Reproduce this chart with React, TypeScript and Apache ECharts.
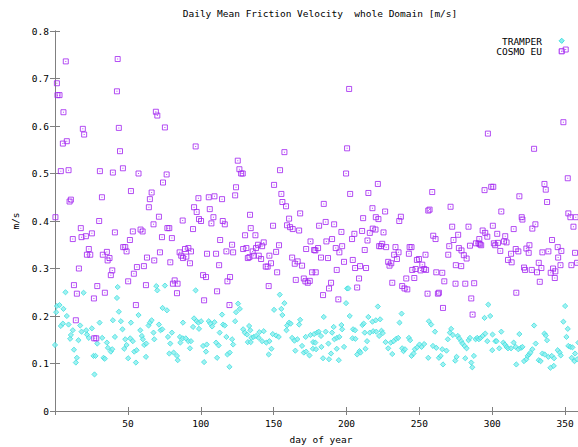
import React, { useEffect, useRef } from "react";
import * as echarts from "echarts";

const chartTitle = "Daily Mean Friction Velocity  whole Domain [m/s]";
const xAxisName = "day of year";
const yAxisName = "m/s";
const seriesNames = ["TRAMPER", "COSMO EU"];

const cosmoDays = [
  0.3, 1.3, 1.7, 3.1, 4.0, 5.4, 5.8, 7.4, 8.1, 9.3, 10.0, 10.9, 12.2, 13.0, 14.3, 15.0, 16.4, 17.7, 18.2, 19.1,
  20.0, 21.2, 21.9, 23.2, 24.2, 25.3, 26.7, 26.9, 28.3, 29.0, 30.3, 30.8, 32.2, 32.8, 34.2, 35.6, 36.1, 37.4, 38.3, 39.3,
  39.7, 41.1, 42.5, 43.0, 43.8, 44.6,
  46.6, 46.8, 48.2, 49.1, 50.2, 51.4, 52.1, 53.4, 54.1, 55.5, 56.2, 57.3, 58.7, 60.1, 61.0, 62.4, 63.1, 64.4, 65.1, 66.3,
  67.6, 68.1, 69.2, 70.2, 71.3, 72.0, 73.4, 74.1, 75.4, 76.6, 77.1, 78.4, 79.1, 80.2, 80.9, 82.1, 83.7, 84.1, 85.5, 86.6,
  87.6, 87.8,
  89.2, 90.1, 91.5, 92.6, 93.3, 94.7, 95.4, 96.5, 97.2, 98.4, 98.8, 100.2, 101.6, 102.3, 103.6, 104.3, 105.5, 106.2, 107.3, 108.7,
  109.4, 110.5, 111.2, 112.6, 113.3, 114.6, 115.1, 116.5, 117.6, 118.3, 119.7, 120.1, 121.5, 122.2, 123.6, 124.2, 125.4, 126.5, 127.7, 128.8,
  129.1, 130.4, 131.3, 132.3,
  133.4, 133.8, 134.3, 135.6, 136.3, 137.5, 137.9, 139.3, 139.8, 141.4, 142.1, 143.2, 144.6, 145.9, 146.6, 147.1, 148.2, 149.6, 150.3, 151.7,
  152.4, 153.7, 154.4, 155.3, 156.0, 157.4, 158.5, 159.2, 160.6, 161.3, 162.7, 163.1, 164.5, 165.2, 166.5, 167.5, 168.2, 169.5, 170.7, 171.8,
  172.3, 173.4, 174.8, 175.3, 176.4, 177.8,
  178.6, 178.9, 180.5, 181.2, 182.5, 183.9, 184.4, 185.7, 186.2, 187.3, 188.0, 189.4, 190.1, 191.5, 192.6, 193.3, 194.4, 195.1, 196.5, 197.0,
  198.3, 199.7, 200.4, 201.8, 202.5, 203.8, 204.3, 205.4, 205.9, 207.3, 208.6, 209.3, 210.7, 211.4, 212.5, 213.4, 214.4, 215.0, 216.0, 217.8,
  218.0, 219.9, 220.1, 221.5, 221.9, 222.4,
  223.6, 224.5, 225.4, 226.5, 227.2, 228.6, 229.5, 230.7, 231.4, 232.7, 233.6, 234.6, 235.7, 236.2, 237.3, 238.2, 239.8, 241.0, 241.7, 242.8,
  243.3, 244.6, 245.1, 246.5, 247.4, 248.3, 249.7, 250.8, 252.0, 253.3, 254.2, 254.6, 255.6, 256.1, 257.0, 258.8, 259.5, 261.1, 261.6, 262.7,
  263.4, 265.7, 266.2, 267.1,
  269.8, 270.5, 271.4, 272.5, 273.4, 274.8, 275.0, 276.6, 277.1, 278.7, 278.9, 280.5, 281.5, 282.4, 283.7, 284.7, 285.6, 286.5, 287.6, 288.8,
  290.6, 291.1, 291.5, 292.4, 293.4, 294.7, 295.2, 296.6, 297.0, 299.3, 300.4, 300.7, 301.1, 302.0, 303.4, 303.9, 305.5, 306.2, 308.0, 308.9,
  309.8, 310.8,
  312.9, 313.3, 314.7, 316.1, 316.5, 317.9, 318.6, 320.2, 320.7, 321.8, 322.5, 323.4, 325.0, 325.5, 327.1, 327.5, 328.7, 329.6, 330.7, 331.9,
  332.6, 333.7, 334.4, 335.8, 336.7, 337.6, 338.5, 340.1, 341.0, 341.7, 342.9, 343.3, 344.9, 345.2, 346.8, 347.4, 348.8, 350.4, 351.8, 352.2,
  353.6, 354.3, 355.7, 356.8, 357.3, 358.2,
];
const cosmoValues = [
  0.408, 0.690, 0.665, 0.665, 0.505, 0.563, 0.629, 0.736, 0.568, 0.507, 0.441, 0.445, 0.362, 0.265, 0.191, 0.247, 0.300, 0.385, 0.366, 0.594,
  0.582, 0.368, 0.329, 0.341, 0.329, 0.374, 0.237, 0.153, 0.153, 0.263, 0.400, 0.505, 0.450, 0.329, 0.249, 0.335, 0.317, 0.322, 0.286, 0.296,
  0.502, 0.376, 0.673, 0.741, 0.596, 0.547,
  0.511, 0.345, 0.345, 0.336, 0.273, 0.360, 0.463, 0.378, 0.289, 0.223, 0.303, 0.500, 0.382, 0.378, 0.305, 0.265, 0.323, 0.429, 0.446, 0.460,
  0.393, 0.317, 0.630, 0.622, 0.409, 0.334, 0.366, 0.481, 0.597, 0.498, 0.385, 0.385, 0.313, 0.364, 0.268, 0.275, 0.248, 0.268, 0.334, 0.327,
  0.401, 0.322,
  0.341, 0.325, 0.343, 0.311, 0.336, 0.383, 0.429, 0.557, 0.419, 0.448, 0.404, 0.400, 0.286, 0.233, 0.282, 0.331, 0.450, 0.425, 0.395, 0.408,
  0.452, 0.331, 0.252, 0.307, 0.360, 0.446, 0.400, 0.393, 0.336, 0.273, 0.223, 0.282, 0.350, 0.334, 0.454, 0.471, 0.527, 0.509, 0.500, 0.500,
  0.341, 0.370, 0.343, 0.322,
  0.324, 0.413, 0.385, 0.336, 0.327, 0.370, 0.343, 0.350, 0.327, 0.320, 0.347, 0.355, 0.304, 0.304, 0.263, 0.327, 0.311, 0.390, 0.476, 0.335,
  0.292, 0.349, 0.507, 0.457, 0.440, 0.545, 0.431, 0.391, 0.405, 0.387, 0.323, 0.383, 0.310, 0.276, 0.315, 0.380, 0.416, 0.306, 0.279, 0.273,
  0.341, 0.270, 0.274, 0.357, 0.292, 0.339,
  0.338, 0.292, 0.343, 0.390, 0.323, 0.244, 0.436, 0.398, 0.357, 0.322, 0.258, 0.270, 0.362, 0.393, 0.343, 0.297, 0.235, 0.334, 0.377, 0.347,
  0.314, 0.500, 0.553, 0.678, 0.457, 0.362, 0.318, 0.373, 0.301, 0.260, 0.279, 0.305, 0.379, 0.406, 0.339, 0.301, 0.359, 0.459, 0.375, 0.427,
  0.384, 0.382, 0.408, 0.478, 0.404, 0.347,
  0.347, 0.352, 0.376, 0.420, 0.345, 0.314, 0.306, 0.311, 0.270, 0.329, 0.345, 0.320, 0.334, 0.400, 0.409, 0.263, 0.258, 0.279, 0.256, 0.331,
  0.345, 0.345, 0.297, 0.280, 0.299, 0.318, 0.320, 0.296, 0.308, 0.299, 0.329, 0.297, 0.247, 0.422, 0.424, 0.461, 0.369, 0.362, 0.292, 0.247,
  0.249, 0.291, 0.217, 0.273,
  0.329, 0.347, 0.430, 0.388, 0.360, 0.268, 0.307, 0.371, 0.343, 0.305, 0.338, 0.328, 0.268, 0.321, 0.388, 0.348, 0.237, 0.203, 0.269, 0.353,
  0.353, 0.362, 0.351, 0.349, 0.380, 0.465, 0.375, 0.367, 0.584, 0.472, 0.390, 0.472, 0.353, 0.349, 0.373, 0.354, 0.337, 0.420, 0.357, 0.368,
  0.355, 0.318,
  0.331, 0.313, 0.383, 0.341, 0.249, 0.336, 0.452, 0.408, 0.403, 0.302, 0.297, 0.342, 0.333, 0.349, 0.297, 0.384, 0.552, 0.393, 0.292, 0.312,
  0.272, 0.301, 0.334, 0.478, 0.466, 0.440, 0.336, 0.291, 0.360, 0.300, 0.280, 0.294, 0.345, 0.323, 0.307, 0.337, 0.608, 0.761, 0.490, 0.416,
  0.408, 0.307, 0.388, 0.333, 0.408, 0.312,
];

const tramperDays = [
  0.0, 0.8, 1.3, 3.1, 4.0, 5.4, 5.8, 7.2, 8.1, 9.3, 10.4, 10.9, 12.2, 13.0, 14.3, 15.0, 16.1, 17.3, 18.2, 19.6,
  21.4, 21.9, 23.2, 25.3, 26.4, 27.1, 27.8, 29.0, 30.6, 32.4, 33.3, 34.2, 35.6, 36.3, 38.3, 39.3, 39.7, 41.1, 42.5, 43.0,
  43.8,
  45.2, 46.3, 47.5, 48.2, 49.1, 50.2, 51.6, 52.1, 53.4, 54.4, 55.5, 56.0, 57.3, 58.5, 59.6, 60.3, 61.2, 62.4, 62.6, 64.2,
  65.1, 66.3, 67.6, 68.1, 69.5, 70.2, 71.3, 72.4, 73.6, 73.8, 75.4, 76.8, 77.5, 78.4, 79.1, 80.2, 81.4, 83.7, 84.2, 85.7,
  86.0, 87.6, 87.8,
  89.7, 91.5, 92.6, 93.3, 94.7, 95.4, 96.5, 97.2, 98.4, 98.8, 100.2, 101.6, 102.3, 103.6, 104.1, 105.5, 106.6, 107.8, 109.4, 110.5,
  111.2, 112.3, 113.0, 114.6, 115.3, 116.5, 117.6, 118.3, 119.7, 119.9, 121.5, 122.2, 123.6, 124.2, 125.6, 126.8, 129.1, 130.2, 131.8, 132.3,
  133.2,
  134.0, 134.3, 134.7, 136.3, 137.9, 139.8, 140.2, 142.1, 143.2, 145.0, 146.6, 147.1, 148.5, 149.4, 150.3, 151.7, 153.5, 154.2, 155.3, 156.0,
  157.4, 158.8, 159.2, 160.6, 161.7, 162.7, 164.3, 164.9, 166.3, 167.5, 168.2, 169.5, 170.7, 172.0, 172.3, 174.6, 175.3, 176.9, 177.1, 177.8,
  178.6, 179.1, 179.8, 180.9, 182.5, 182.8, 183.9, 184.4, 185.7, 187.6, 188.0, 189.4, 190.1, 191.2, 191.7, 193.3, 193.5, 194.7, 195.1, 196.5,
  197.0, 198.3, 199.7, 200.4, 201.3, 202.2, 204.1, 204.5, 205.9, 206.1, 207.3, 208.9, 209.6, 210.9, 211.8, 212.5, 213.0, 214.1, 215.0, 216.0,
  217.8, 218.3, 220.1, 220.4, 221.5, 222.4,
  223.1, 224.0, 224.9, 226.8, 228.6, 230.4, 231.4, 232.3, 234.1, 235.5, 236.4, 237.8, 238.2, 239.1, 240.1, 242.8, 243.7, 244.6, 246.0, 246.9,
  248.5, 250.1, 251.5, 253.3, 256.1, 256.5, 258.1, 259.3, 260.7, 261.6, 263.4, 264.6, 265.7, 266.2,
  268.6, 269.5, 270.9, 271.8, 273.0, 274.6, 275.5, 276.4, 277.3, 278.7, 279.6, 281.0, 281.5, 282.4, 283.7, 284.7, 285.6, 286.3, 287.4, 288.6,
  289.7, 290.8, 292.0, 293.4, 294.7, 295.2, 296.6, 297.3, 298.6, 300.0, 300.2, 302.1, 303.0, 304.8, 306.2, 307.6, 308.7, 309.8, 310.8,
  312.9, 314.7, 316.1, 316.5, 317.9, 318.6, 319.7, 320.7, 321.8, 323.4, 324.3, 325.2, 326.2, 327.5, 328.7, 329.8, 331.9, 333.2, 334.4, 335.8,
  336.0, 336.7, 337.6, 338.5, 339.9, 340.8, 342.2, 342.4, 344.9, 346.3, 347.0, 348.8, 350.0, 350.9, 351.8, 352.2, 353.6, 354.5, 355.0, 356.4,
  356.8, 358.2, 359.1,
];
const tramperValues = [
  0.139, 0.208, 0.221, 0.223, 0.179, 0.184, 0.215, 0.250, 0.200, 0.182, 0.152, 0.160, 0.170, 0.129, 0.102, 0.112, 0.149, 0.180, 0.167, 0.249,
  0.170, 0.161, 0.154, 0.174, 0.116, 0.077, 0.116, 0.142, 0.186, 0.154, 0.112, 0.110, 0.144, 0.133, 0.125, 0.130, 0.191, 0.156, 0.238, 0.261,
  0.209,
  0.189, 0.172, 0.131, 0.151, 0.139, 0.111, 0.153, 0.186, 0.147, 0.125, 0.102, 0.128, 0.202, 0.170, 0.158, 0.151, 0.139, 0.114, 0.142, 0.180,
  0.186, 0.191, 0.165, 0.151, 0.263, 0.254, 0.182, 0.170, 0.172, 0.217, 0.264, 0.212, 0.156, 0.121, 0.142, 0.165, 0.123, 0.116, 0.107, 0.156,
  0.144, 0.153, 0.186,
  0.153, 0.147, 0.132, 0.147, 0.177, 0.195, 0.254, 0.189, 0.186, 0.173, 0.189, 0.137, 0.103, 0.125, 0.140, 0.189, 0.184, 0.178, 0.187, 0.144,
  0.112, 0.138, 0.165, 0.203, 0.182, 0.180, 0.156, 0.119, 0.093, 0.123, 0.151, 0.140, 0.189, 0.208, 0.226, 0.215, 0.172, 0.165, 0.161, 0.145,
  0.179,
  0.170, 0.145, 0.154, 0.156, 0.158, 0.154, 0.166, 0.147, 0.168, 0.144, 0.119, 0.147, 0.131, 0.162, 0.213, 0.159, 0.156, 0.245, 0.215, 0.202,
  0.227, 0.170, 0.180, 0.186, 0.184, 0.154, 0.148, 0.127, 0.151, 0.182, 0.192, 0.137, 0.123, 0.156, 0.125, 0.117, 0.160, 0.131, 0.145, 0.162,
  0.144, 0.130, 0.165, 0.167, 0.158, 0.135, 0.111, 0.198, 0.167, 0.142, 0.109, 0.121, 0.165, 0.177, 0.151, 0.131, 0.154, 0.107, 0.156, 0.181,
  0.172, 0.135, 0.227, 0.258, 0.258, 0.200, 0.153, 0.172, 0.170, 0.152, 0.119, 0.126, 0.123, 0.181, 0.184, 0.165, 0.131, 0.147, 0.198, 0.165,
  0.188, 0.168, 0.191, 0.167, 0.220, 0.158,
  0.193, 0.169, 0.164, 0.145, 0.132, 0.144, 0.120, 0.147, 0.152, 0.154, 0.186, 0.205, 0.132, 0.126, 0.130, 0.154, 0.149, 0.116, 0.121, 0.130,
  0.134, 0.140, 0.135, 0.141, 0.112, 0.189, 0.182, 0.137, 0.167, 0.133, 0.112, 0.116, 0.130, 0.098,
  0.127, 0.151, 0.165, 0.173, 0.160, 0.106, 0.114, 0.158, 0.153, 0.147, 0.142, 0.137, 0.111, 0.132, 0.149, 0.154, 0.102, 0.092, 0.116, 0.151,
  0.154, 0.151, 0.154, 0.158, 0.196, 0.163, 0.147, 0.224, 0.200, 0.128, 0.161, 0.147, 0.147, 0.132, 0.167, 0.144, 0.140, 0.135, 0.132,
  0.132, 0.144, 0.135, 0.098, 0.130, 0.162, 0.133, 0.135, 0.105, 0.109, 0.116, 0.119, 0.123, 0.130, 0.180, 0.142, 0.107, 0.105, 0.121, 0.163,
  0.119, 0.159, 0.149, 0.114, 0.091, 0.116, 0.095, 0.111, 0.128, 0.123, 0.117, 0.188, 0.221, 0.156, 0.173, 0.137, 0.135, 0.112, 0.134, 0.105,
  0.121, 0.109, 0.144,
];

const FONT = "'DejaVu Sans Mono', 'Liberation Mono', monospace";
const AXIS_COLOR = "#808080";
const CYAN = "#40e0e0";
const CYAN_FILL = "#8aeeee";
const PURPLE = "#a020f0";

export default function App() {
  const ref = useRef<HTMLDivElement>(null);
  useEffect(() => {
    if (!ref.current) return;
    const chart = echarts.init(ref.current, null, { renderer: "svg" });
    const cosmo = cosmoDays.map((d, i) => [d, cosmoValues[i]]);
    const tramper = tramperDays.map((d, i) => [d, tramperValues[i]]);
    const labelStyle = { fontFamily: FONT, fontSize: 9.5, color: "#000" };
    const axisCommon = {
      axisLine: { show: true, lineStyle: { color: AXIS_COLOR, width: 1 } },
      splitLine: { show: false },
    };
    chart.setOption({
      animation: false,
      backgroundColor: "#ffffff",
      title: {
        text: chartTitle,
        left: "center",
        top: 3,
        textStyle: { fontFamily: FONT, fontSize: 9.5, fontWeight: "normal", color: "#000" },
      },
      grid: { left: 55, top: 31, width: 532, height: 380 },
      xAxis: [
        {
          type: "value",
          min: 0,
          max: 365,
          interval: 50,
          position: "bottom",
          ...axisCommon,
          axisTick: { show: true, inside: true, length: 4, lineStyle: { color: AXIS_COLOR } },
          axisLabel: { ...labelStyle, margin: 7, showMinLabel: false, showMaxLabel: false },
          name: xAxisName,
          nameLocation: "middle",
          nameGap: 23,
          nameTextStyle: labelStyle,
        },
        {
          type: "value",
          min: 0,
          max: 365,
          interval: 50,
          position: "top",
          ...axisCommon,
          axisTick: { show: true, inside: true, length: 4, lineStyle: { color: AXIS_COLOR } },
          axisLabel: { show: false },
        },
      ],
      yAxis: [
        {
          type: "value",
          min: 0,
          max: 0.8,
          interval: 0.1,
          position: "left",
          ...axisCommon,
          axisTick: { show: true, inside: true, length: 5, lineStyle: { color: AXIS_COLOR } },
          axisLabel: { ...labelStyle, margin: 6 },
          name: yAxisName,
          nameLocation: "middle",
          nameGap: 33,
          nameRotate: 90,
          nameTextStyle: labelStyle,
        },
        {
          type: "value",
          min: 0,
          max: 0.8,
          interval: 0.1,
          position: "right",
          ...axisCommon,
          axisTick: { show: true, inside: true, length: 5, lineStyle: { color: AXIS_COLOR } },
          axisLabel: { show: false },
        },
      ],
      graphic: [
        {
          type: "text",
          x: 542,
          y: 41,
          style: { text: seriesNames[0], align: "right", verticalAlign: "middle", font: `9.5px ${FONT}`, fill: "#000" },
        },
        {
          type: "text",
          x: 542,
          y: 51.5,
          style: { text: seriesNames[1], align: "right", verticalAlign: "middle", font: `9.5px ${FONT}`, fill: "#000" },
        },
        {
          type: "polygon",
          shape: { points: [[561.7, 38.2], [564.3, 40.8], [561.7, 43.4], [559.1, 40.8]] },
          style: { fill: CYAN_FILL, stroke: CYAN, lineWidth: 1 },
        },
        {
          type: "rect",
          shape: { x: 559.2, y: 48.8, width: 5, height: 5 },
          style: { fill: "none", stroke: PURPLE, lineWidth: 1 },
        },
        {
          type: "rect",
          shape: { x: 561.2, y: 50.8, width: 1, height: 1 },
          style: { fill: PURPLE },
        },
      ],
      series: [
        {
          name: seriesNames[0],
          type: "scatter",
          xAxisIndex: 0,
          yAxisIndex: 0,
          data: tramper,
          symbol: "diamond",
          symbolSize: [5.2, 5.2],
          itemStyle: { color: CYAN_FILL, borderColor: CYAN, borderWidth: 1 },
          silent: true,
        },
        {
          name: seriesNames[1],
          type: "scatter",
          xAxisIndex: 0,
          yAxisIndex: 0,
          data: cosmo,
          symbol: "rect",
          symbolSize: 5,
          itemStyle: { color: "rgba(0,0,0,0)", borderColor: PURPLE, borderWidth: 1 },
          silent: true,
        },
        {
          name: seriesNames[1] + " centre",
          type: "scatter",
          xAxisIndex: 0,
          yAxisIndex: 0,
          data: cosmo,
          symbol: "rect",
          symbolSize: 1,
          itemStyle: { color: PURPLE },
          silent: true,
        },
      ],
    });
    return () => chart.dispose();
  }, []);
  return (
    <div
      style={{
        position: "fixed",
        left: 0,
        top: 0,
        width: 578,
        height: 447,
        overflow: "hidden",
        background: "#fff",
      }}
    >
      <div ref={ref} style={{ width: 640, height: 480 }} />
    </div>
  );
}
